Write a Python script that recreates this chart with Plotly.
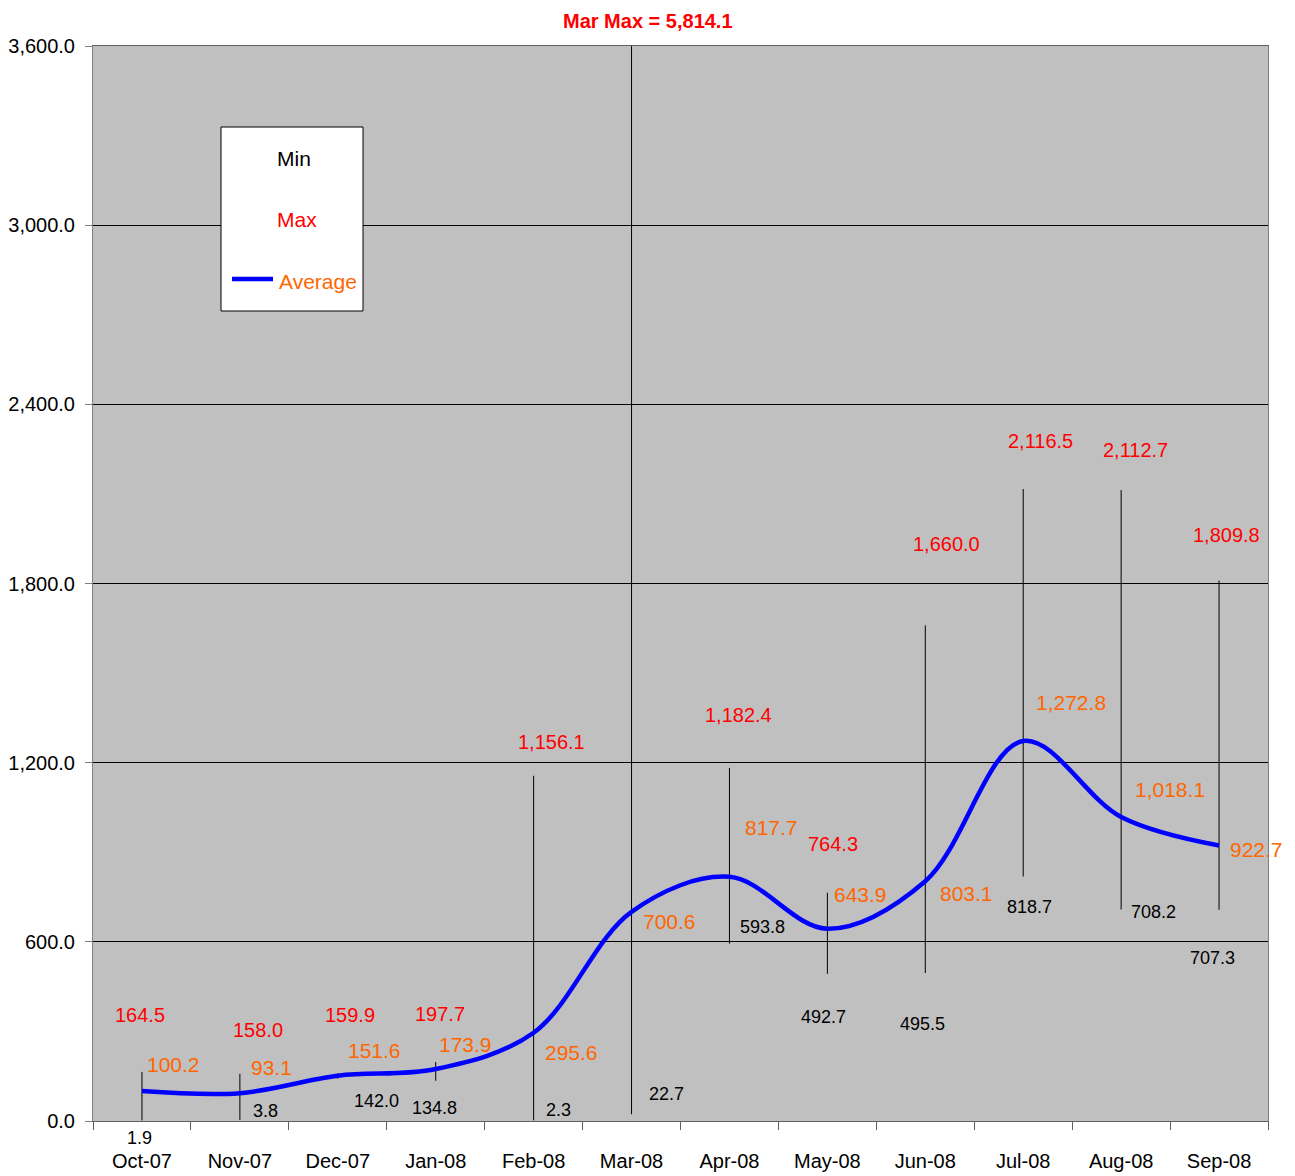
import plotly.graph_objects as go

months = ["Oct-07", "Nov-07", "Dec-07", "Jan-08", "Feb-08", "Mar-08",
          "Apr-08", "May-08", "Jun-08", "Jul-08", "Aug-08", "Sep-08"]
min_vals = [1.9, 3.8, 142.0, 134.8, 2.3, 22.7, 593.8, 492.7, 495.5, 818.7, 708.2, 707.3]
max_vals = [164.5, 158.0, 159.9, 197.7, 1156.1, 5814.1, 1182.4, 764.3, 1660.0, 2116.5, 2112.7, 1809.8]
avg_vals = [100.2, 93.1, 151.6, 173.9, 295.6, 700.6, 817.7, 643.9, 803.1, 1272.8, 1018.1, 922.7]

# label placement offsets in pixels (dx right, dy up) relative to the data point
max_off = [(-2, 57), (18, 44), (12, 58), (4, 48), (18, 34), None,
           (9, 53), (6, 49), (21, 81), (17, 48), (14, 40), (7, 46)]
avg_off = [(32, 27), (32, 26), (37, 25), (30, 25), (38, -20), (38, -10),
           (42, 49), (33, 34), (41, -12), (48, 38), (49, 27), (37, -4)]
min_off = [(-2, -18), (26, 9), (39, -22), (-1, -27), (25, 10), (35, 20),
           (33, 17), (-4, -43), (-3, -51), (6, -30), (32, -2), (-7, -48)]

FONT = "Liberation Sans, Arial, sans-serif"
RED = "#FF0000"
ORANGE = "#FF6600"
BLUE = "#0000FF"

fig = go.Figure()

# high-low lines
hx, hy = [], []
for m, lo, hi in zip(months, min_vals, max_vals):
    hx += [m, m, None]
    hy += [lo, hi, None]
fig.add_trace(go.Scatter(x=hx, y=hy, mode="lines", line=dict(color="black", width=1),
                         showlegend=False, hoverinfo="skip"))

# average line
fig.add_trace(go.Scatter(x=months, y=avg_vals, mode="lines",
                         line=dict(color=BLUE, width=4.5, shape="spline", smoothing=1.0),
                         showlegend=False))

ann = []
for i, m in enumerate(months):
    if max_off[i] is not None:
        dx, dy = max_off[i]
        ann.append(dict(x=m, y=max_vals[i], xref="x", yref="y", text=f"{max_vals[i]:,.1f}",
                        showarrow=False, xshift=dx, yshift=dy,
                        font=dict(family=FONT, size=20, color=RED)))
    dx, dy = avg_off[i]
    ann.append(dict(x=m, y=avg_vals[i], xref="x", yref="y", text=f"{avg_vals[i]:,.1f}",
                    showarrow=False, xshift=dx, yshift=dy,
                    font=dict(family=FONT, size=21, color=ORANGE)))
    dx, dy = min_off[i]
    ann.append(dict(x=m, y=min_vals[i], xref="x", yref="y", text=f"{min_vals[i]:,.1f}",
                    showarrow=False, xshift=dx, yshift=dy,
                    font=dict(family=FONT, size=18, color="black")))

# the page body adds an 8px margin, so the figure origin sits at (8, 8) in the window
OX, OY = 8, 8
W, H = 1295 - 2 * OX, 1176 - OY
L = 93 - OX
T = 46 - OY
R = (W + OX) - 1268
B = (H + OY) - 1121
pw, ph = W - L - R, H - T - B


def px(x):
    return (x - OX - L) / pw


def py(y):
    return (H + OY - B - y) / ph


# title
ann.append(dict(x=px(648), y=py(21), xref="paper", yref="paper", text="<b>Mar Max = 5,814.1</b>",
                showarrow=False, xanchor="center", yanchor="middle",
                font=dict(family=FONT, size=20, color=RED)))

# manual legend
shapes = [
    dict(type="rect", xref="paper", yref="paper", x0=px(221), x1=px(363), y0=py(311), y1=py(127),
         fillcolor="white", line=dict(color="black", width=1), layer="above"),
    dict(type="line", xref="paper", yref="paper", x0=px(232), x1=px(273), y0=py(279), y1=py(279),
         line=dict(color=BLUE, width=4.5), layer="above"),
]
ann += [
    dict(x=px(294), y=py(159), xref="paper", yref="paper", text="Min", showarrow=False,
         xanchor="center", yanchor="middle",
         font=dict(family=FONT, size=21, color="black")),
    dict(x=px(297), y=py(220), xref="paper", yref="paper", text="Max", showarrow=False,
         xanchor="center", yanchor="middle",
         font=dict(family=FONT, size=21, color=RED)),
    dict(x=px(277), y=py(281), xref="paper", yref="paper", text="Average", showarrow=False,
         xanchor="left", yanchor="middle",
         font=dict(family=FONT, size=21, color=ORANGE)),
]

fig.update_layout(
    width=W, height=H,
    margin=dict(l=L, r=R, t=T, b=B, autoexpand=False),
    paper_bgcolor="white",
    plot_bgcolor="#C0C0C0",
    showlegend=False,
    annotations=ann,
    shapes=shapes,
    font=dict(family=FONT, size=20, color="black"),
)
fig.update_xaxes(type="category", categoryorder="array", categoryarray=months,
                 range=[-0.5, 11.5], tickson="boundaries", ticks="outside", ticklen=8,
                 tickcolor="#606060", showgrid=False, showline=True, linecolor="#606060",
                 mirror=True, ticklabelstandoff=22, automargin=False,
                 tickfont=dict(family=FONT, size=20, color="black"))
fig.update_yaxes(range=[0, 3600], dtick=600, tick0=0, tickformat=",.1f", ticks="outside",
                 ticklen=7, tickcolor="#808080", showgrid=True, gridcolor="black", gridwidth=1,
                 showline=True, linecolor="#808080", mirror=True, zeroline=False,
                 ticklabelstandoff=6, automargin=False,
                 tickfont=dict(family=FONT, size=20, color="black"))

fig.write_html("out.html")
